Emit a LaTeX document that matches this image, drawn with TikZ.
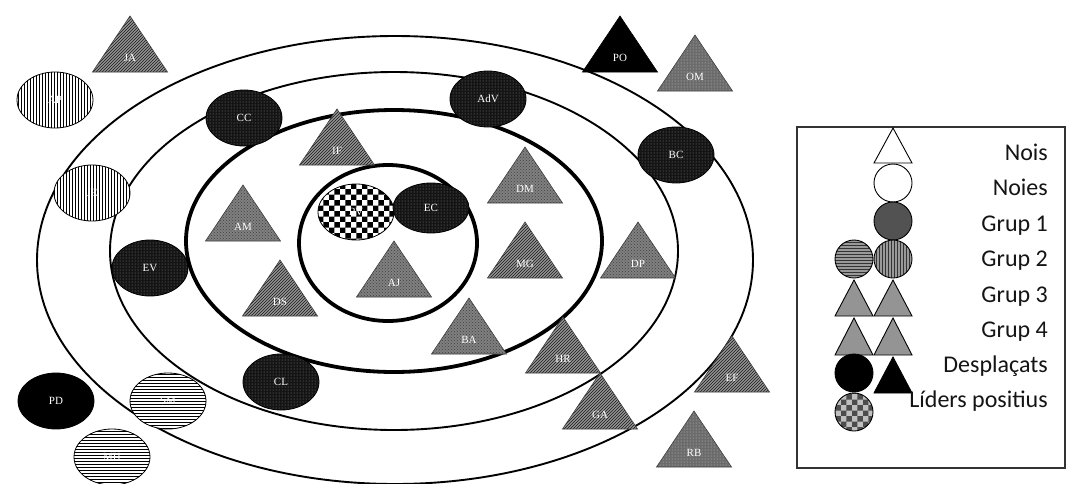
\documentclass[tikz,border=0pt]{standalone}
\usepackage{fontspec}
\setmainfont{Liberation Serif}
\newfontfamily\legfont{Carlito}
\usetikzlibrary{shapes.geometric,patterns}
\tikzset{
  ring/.style={draw=black, line width=1.9pt},
  thickring/.style={draw=black, line width=3.8pt},
  pers/.style={ellipse, draw=black, line width=0.8pt, minimum width=76pt, minimum height=56pt,
    inner sep=0pt, text=white, font=\fontsize{11}{11}\selectfont},
  gone/.style={preaction={fill=black!92}, pattern=dots, pattern color=white!55!black},
  vstr/.style={preaction={fill=white}, pattern=vertical lines, pattern color=black},
  hstr/.style={preaction={fill=white}, pattern=horizontal lines, pattern color=black},
  blk/.style={fill=black},
  chk/.style={preaction={fill=white}, pattern=checkerboard, pattern color=black},
  hatch/.style={preaction={fill=black!42}, pattern=north east lines, pattern color=black!90,
    draw=black!75, line width=0.6pt},
  dith/.style={preaction={fill=black!50}, pattern=crosshatch dots, pattern color=black!75,
    draw=black!75, line width=0.6pt},
  ldot/.style={preaction={fill=black!58}, pattern=dots, pattern color=white!80!black,
    draw=black!75, line width=0.6pt},
  btri/.style={fill=black, draw=black, line width=0.6pt},
  tlab/.style={text=white, font=\fontsize{11}{11}\selectfont, inner sep=0pt},
  leg/.style={anchor=base east, font=\legfont\fontsize{24}{24}\selectfont, text=black!92, inner sep=0pt},
  legsym/.style={circle, draw=black, line width=0.9pt, minimum size=38pt, inner sep=0pt},
  legtri/.style={draw=black, line width=0.9pt},
}
% triangle: [style]{name}{cx}{base y}{label}
\newcommand\tri[5][]{%
  \path[#1] ({#3-37.5},#4) -- (#3,{#4-56}) -- ({#3+37.5},#4) -- cycle;
  \node[tlab] (#2) at (#3,{#4-14}) {#5};}
% legend triangle: [style]{cx}{apex y}{base y}
\newcommand\ltri[4][]{%
  \path[legtri,#1] ({#2-19},#4) -- (#2,#3) -- ({#2+19},#4) -- cycle;}

\begin{document}
\begin{tikzpicture}[x=1pt, y=-1pt]
\useasboundingbox[fill=white] (0,0) rectangle (1080,483);

% rings
\draw[ring] (395,260) ellipse [x radius=358, y radius=224];
\draw[ring] (394,251) ellipse [x radius=284, y radius=179];
\draw[thickring] (394,241) ellipse [x radius=208, y radius=131];
\draw[thickring] (388,243) ellipse [x radius=89, y radius=78];

% triangles
\tri[hatch]{JA}{130}{72}{JA}
\tri[hatch]{IF}{337}{165}{IF}
\tri[dith]{AM}{243}{241}{AM}
\tri[hatch]{DS}{280}{316}{DS}
\tri[dith]{AJ}{394}{297}{AJ}
\tri[dith]{DM}{525}{203}{DM}
\tri[hatch]{MG}{525}{278}{MG}
\tri[dith]{DP}{638}{278}{DP}
\tri[dith]{BA}{469}{354}{BA}
\tri[hatch]{HR}{563}{373}{HR}
\tri[hatch]{GA}{600}{429}{GA}
\tri[hatch]{EF}{732}{392}{EF}
\tri[ldot]{RB}{694}{467}{RB}
\tri[btri]{PO}{620}{72}{PO}
\tri[ldot]{OM}{695}{91}{OM}

% ellipses
\node[pers, vstr] (AP) at (55,100) {AP};
\node[pers, vstr] (JE) at (92,193) {JE};
\node[pers, gone] (CC) at (244,118) {CC};
\node[pers, gone] (AdV) at (488,99) {AdV};
\node[pers, gone] (BC) at (676,155) {BC};
\node[pers, chk] (RV) at (356,212) {RV};
\node[pers, gone, minimum height=50pt] (EC) at (431,208) {EC};
\node[pers, gone] (EV) at (150,268) {EV};
\node[pers, gone] (CL) at (281,382) {CL};
\node[pers, blk] (PD) at (56,401) {PD};
\node[pers, hstr] (SM) at (168,401) {SM};
\node[pers, hstr] (MH) at (112,457) {MH};

% legend
\draw[line width=1.2pt, draw=black!80] (797,127) rectangle (1065,468);
\ltri[fill=white]{893}{128}{163}
\node[legsym, fill=white] (lnoies) at (893,183) {};
\node[legsym, fill=black!68] (lg1) at (893,221) {};
\node[legsym, preaction={fill=black!40}, pattern=horizontal lines, pattern color=black!80] (lg2a) at (854,259) {};
\node[legsym, preaction={fill=black!40}, pattern=vertical lines, pattern color=black!80] (lg2b) at (893,259) {};
\ltri[fill=black!42]{854}{280}{316}
\ltri[fill=black!42]{893}{280}{316}
\ltri[fill=black!42]{854}{318}{355}
\ltri[fill=black!42]{893}{318}{355}
\node[legsym, fill=black] (ldesp) at (854,373) {};
\ltri[fill=black]{893}{357}{393}
\node[legsym, preaction={fill=black!25}, pattern=checkerboard, pattern color=black!70] (llid) at (854,412) {};

\node[leg] (tnois) at (1048,160) {Nois};
\node[leg] (tnoies) at (1048,195.5) {Noies};
\node[leg] (tg1) at (1048,231) {Grup 1};
\node[leg] (tg2) at (1048,266.5) {Grup 2};
\node[leg] (tg3) at (1048,302) {Grup 3};
\node[leg] (tg4) at (1048,337) {Grup 4};
\node[leg] (tdesp) at (1048,372) {Desplaçats};
\node[leg] (tlid) at (1048,407) {Líders positius};
\end{tikzpicture}
\end{document}
